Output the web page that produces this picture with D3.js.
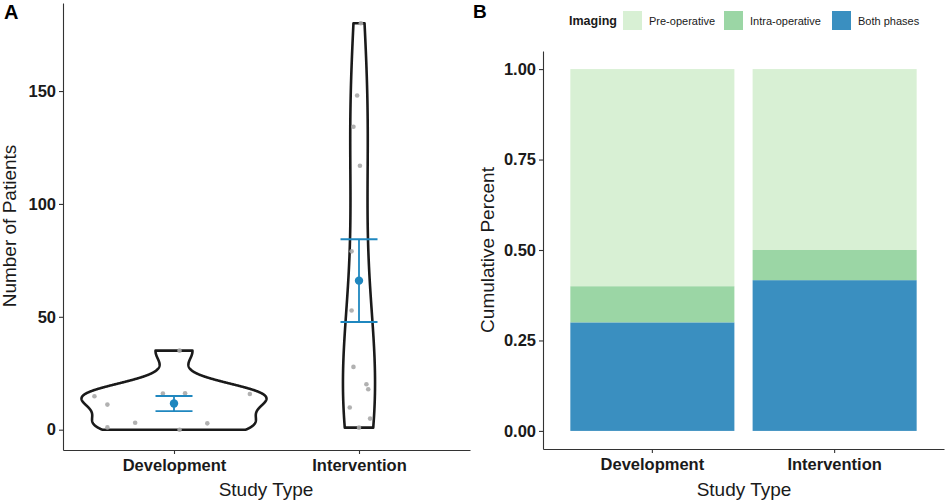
<!DOCTYPE html>
<html>
<head>
<meta charset="utf-8">
<script src="https://cdn.jsdelivr.net/npm/d3@7"></script>
<style>
  body { margin: 0; background: #fff; }
  svg { font-family: "Liberation Sans", Arial, sans-serif; display: block; }
</style>
</head>
<body>
<div id="chart-container"></div>
<script>
// study types
const studyTypes = ["Development", "Intervention"];

// patients per study (panel A) and horizontal jitter in category units
const devPatients = [35, 14.8, 11.1, 16, 16.1, 15.8, 3.1, 2.8, 1, 0];
const devJitter = [0.03, -0.43, -0.36, -0.06, 0.06, 0.41, -0.21, 0.18, -0.36, 0.03];
const intPatients = [180, 148, 134.2, 116.9, 79, 52.8, 27.8, 20.1, 17.9, 9.8, 4.9, 0.9];
const intJitter = [0.01, -0.01, -0.03, 0.005, -0.04, -0.04, -0.03, 0.04, 0.05, -0.05, 0.06, 0];

// imaging share (panel B)
const imagingPhases = ["Pre-operative", "Intra-operative", "Both phases"];
const devImaging = [0.6, 0.1, 0.3];
const intImaging = [0.5, 1 / 12, 5 / 12];

const patientTicks = [0, 50, 100, 150];
const percentTicks = [0, 0.25, 0.5, 0.75, 1];

const phaseColors = ["#d8f0d4", "#9bd6a5", "#3a8fc0"];
const blue = "#1f87bf";
const axisCol = "#333333";

const width = 945, height = 501;

const svg = d3
  .select("#chart-container")
  .append("svg")
  .attr("width", width)
  .attr("height", height);

// ---------- Panel A ----------
const xA = d3.scalePoint().domain(studyTypes).range([63, 470]).padding(0.6);
const yA = d3.scaleLinear().domain([-9, 189]).range([450, 3]);
const step = xA.step();

const groups = [
  { name: "Development", values: devPatients, jitter: devJitter },
  { name: "Intervention", values: intPatients, jitter: intJitter },
];

// gaussian kde with R's nrd0 bandwidth, trimmed to data range
function kde(values) {
  const s = values.slice().sort(d3.ascending);
  const n = s.length;
  const iqr = (d3.quantile(s, 0.75) - d3.quantile(s, 0.25)) / 1.34;
  const bw = 0.9 * Math.min(d3.deviation(s), iqr) * Math.pow(n, -0.2);
  const lo = s[0], hi = s[n - 1];
  const pts = [];
  for (let i = 0; i < 512; i++) {
    const y = lo + ((hi - lo) * i) / 511;
    const dens =
      d3.sum(s, (v) => Math.exp(-0.5 * ((y - v) / bw) ** 2)) /
      (n * bw * Math.sqrt(2 * Math.PI));
    pts.push({ y, dens });
  }
  return pts;
}

groups.forEach((g) => (g.density = kde(g.values)));
const maxDens = d3.max(groups, (g) => d3.max(g.density, (d) => d.dens));

const gA = svg.append("g");

// violins
groups.forEach((g) => {
  const cx = xA(g.name);
  const half = (d) => (d.dens / maxDens) * 0.5 * step;
  const right = g.density.map((d) => [cx + half(d), yA(d.y)]);
  const left = g.density.slice().reverse().map((d) => [cx - half(d), yA(d.y)]);
  gA.append("path")
    .attr("d", d3.line()(right.concat(left)) + "Z")
    .attr("fill", "none")
    .attr("stroke", "#1a1a1a")
    .attr("stroke-width", 2.6)
    .attr("stroke-linejoin", "round");
});

// jittered points
groups.forEach((g) => {
  gA.selectAll(null)
    .data(g.values)
    .enter()
    .append("circle")
    .attr("cx", (d, i) => xA(g.name) + g.jitter[i] * step)
    .attr("cy", (d) => yA(d))
    .attr("r", 2.3)
    .attr("fill", "#a8a8a8")
    .attr("opacity", 0.9);
});

// mean +/- standard error
groups.forEach((g) => {
  const cx = xA(g.name);
  const m = d3.mean(g.values);
  const se = d3.deviation(g.values) / Math.sqrt(g.values.length);
  const capW = 0.1 * step;
  const eb = gA.append("g").attr("stroke", blue).attr("stroke-width", 1.8);
  eb.append("line").attr("x1", cx).attr("x2", cx).attr("y1", yA(m - se)).attr("y2", yA(m + se));
  [m - se, m + se].forEach((v) =>
    eb.append("line").attr("x1", cx - capW).attr("x2", cx + capW).attr("y1", yA(v)).attr("y2", yA(v))
  );
  gA.append("circle").attr("cx", cx).attr("cy", yA(m)).attr("r", 4.2).attr("fill", blue);
});

// axes A
const axA_y = svg
  .append("g")
  .attr("transform", "translate(63,0)")
  .call(d3.axisLeft(yA).tickValues(patientTicks).tickSize(4).tickSizeOuter(0).tickPadding(3));
const axA_x = svg
  .append("g")
  .attr("transform", "translate(0,450)")
  .call(d3.axisBottom(xA).tickSize(4).tickSizeOuter(0).tickPadding(5));

// ---------- Panel B ----------
const xB = d3.scaleBand().domain(studyTypes).range([543, 944]).paddingInner(0.1).paddingOuter(0.15);
const yB = d3.scaleLinear().domain([-0.05, 1.05]).range([449, 51]);

const shares = { Development: devImaging, Intervention: intImaging };
// stack from bottom: Both phases, Intra-operative, Pre-operative
studyTypes.forEach((t) => {
  let base = 0;
  [2, 1, 0].forEach((k) => {
    const v = shares[t][k];
    svg.append("rect")
      .attr("x", xB(t))
      .attr("width", xB.bandwidth())
      .attr("y", yB(base + v))
      .attr("height", yB(base) - yB(base + v))
      .attr("fill", phaseColors[k]);
    base += v;
  });
});

const axB_y = svg
  .append("g")
  .attr("transform", "translate(543,0)")
  .call(d3.axisLeft(yB).tickValues(percentTicks).tickFormat(d3.format(".2f")).tickSize(4).tickSizeOuter(0).tickPadding(3));
const axB_x = svg
  .append("g")
  .attr("transform", "translate(0,449)")
  .call(d3.axisBottom(xB).tickSize(4).tickSizeOuter(0).tickPadding(5));

// axis styling
[axA_y, axA_x, axB_y, axB_x].forEach((ax) => {
  ax.select(".domain").attr("stroke", axisCol).attr("stroke-width", 1.1);
  ax.selectAll(".tick line").attr("stroke", axisCol).attr("stroke-width", 1.1);
  ax.selectAll(".tick text")
    .attr("fill", "#1a1a1a")
    .style("font-size", "16.5px")
    .style("font-weight", "bold");
});

// axis titles
svg.append("text").attr("x", 266).attr("y", 496).attr("text-anchor", "middle")
  .style("font-size", "19px").attr("fill", "#1a1a1a").text("Study Type");
svg.append("text").attr("x", 744).attr("y", 496).attr("text-anchor", "middle")
  .style("font-size", "19px").attr("fill", "#1a1a1a").text("Study Type");
svg.append("text").attr("transform", "translate(16,226) rotate(-90)").attr("text-anchor", "middle")
  .style("font-size", "19px").attr("fill", "#1a1a1a").text("Number of Patients");
svg.append("text").attr("transform", "translate(494,250) rotate(-90)").attr("text-anchor", "middle")
  .style("font-size", "19px").attr("fill", "#1a1a1a").text("Cumulative Percent");

// panel tags
svg.append("text").attr("x", 4).attr("y", 19).style("font-size", "20px").style("font-weight", "bold").text("A");
svg.append("text").attr("x", 473).attr("y", 18).style("font-size", "19px").style("font-weight", "bold").text("B");

// legend
const legend = svg.append("g");
legend.append("text").attr("x", 569).attr("y", 25).style("font-size", "12.5px")
  .style("font-weight", "bold").attr("fill", "#1a1a1a").text("Imaging");
const keyX = [623, 724, 832];
imagingPhases.forEach((p, i) => {
  legend.append("rect").attr("x", keyX[i]).attr("y", 11).attr("width", 19).attr("height", 19)
    .attr("fill", phaseColors[i]);
  legend.append("text").attr("x", keyX[i] + 26).attr("y", 25).style("font-size", "11px")
    .attr("fill", "#1a1a1a").text(p);
});
</script>
</body>
</html>
